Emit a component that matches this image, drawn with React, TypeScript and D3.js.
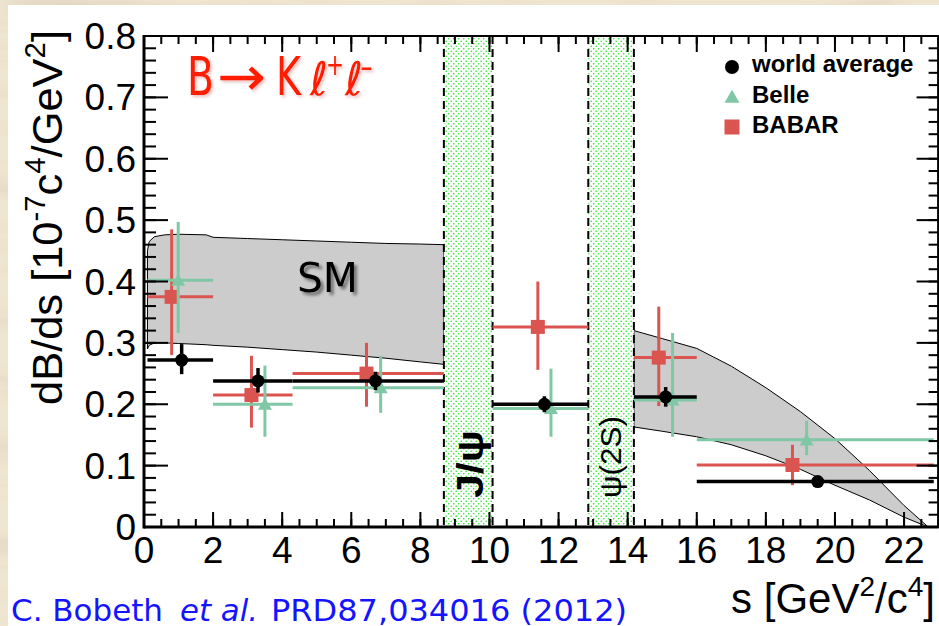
import React from 'react';
import * as d3 from 'd3';

// ---- data ----
const binLo = [0.1, 2.0, 4.3, 10.09, 14.18, 16.0];
const binHi = [2.0, 4.3, 8.68, 12.86, 16.0, 22.86];

const waX = [1.09, 3.3, 6.7, 11.59, 15.1, 19.5];
const waY = [0.272, 0.238, 0.238, 0.2, 0.212, 0.074];
const waHi = [0.298, 0.259, 0.253, 0.213, 0.228, 0.082];
const waLo = [0.249, 0.219, 0.223, 0.187, 0.196, 0.066];

const belleX = [0.99, 3.5, 6.85, 11.78, 15.3, 19.18];
const belleY = [0.402, 0.2, 0.227, 0.193, 0.207, 0.142];
const belleHi = [0.497, 0.263, 0.279, 0.258, 0.316, 0.173];
const belleLo = [0.316, 0.147, 0.186, 0.147, 0.147, 0.117];

const babarX = [0.8, 3.11, 6.44, 11.4, 14.9, 18.77];
const babarY = [0.375, 0.215, 0.25, 0.326, 0.276, 0.101];
const babarHi = [0.485, 0.279, 0.3, 0.4, 0.359, 0.134];
const babarLo = [0.28, 0.162, 0.196, 0.256, 0.197, 0.068];

const smS1 = [0.1, 0.15, 0.3, 0.6, 1.0, 1.8, 2.0, 3.0, 4.0, 5.0, 6.0, 7.0, 8.0, 8.68];
const smUp1 = [0.45, 0.465, 0.473, 0.476, 0.477, 0.476, 0.472, 0.47, 0.468, 0.466, 0.464, 0.462, 0.461, 0.46];
const smLow1 = [0.29, 0.296, 0.3, 0.3, 0.299, 0.297, 0.296, 0.293, 0.289, 0.285, 0.28, 0.275, 0.269, 0.265];

const smS2 = [14.18, 15, 16, 17, 18, 19, 20, 21, 22, 22.7];
const smUp2 = [0.32, 0.307, 0.291, 0.262, 0.227, 0.188, 0.144, 0.092, 0.035, 0.0];
const smLow2 = [0.163, 0.156, 0.147, 0.134, 0.116, 0.094, 0.068, 0.044, 0.016, 0.0];

const vetoLo = [8.68, 12.86];
const vetoHi = [10.09, 14.18];
const vetoLabels = ['J/ψ', 'ψ(2S)'];

const xTickLabels = ['0', '2', '4', '6', '8', '10', '12', '14', '16', '18', '20', '22'];
const yTickLabels = ['0', '0.1', '0.2', '0.3', '0.4', '0.5', '0.6', '0.7', '0.8'];

const legendNames = ['world average', 'Belle', 'BABAR'];

// ---- styles ----
const BLACK = '#000000';
const GREEN = '#80c7a6';
const RED = '#da5550';

const X0 = 144, X1 = 938.6, Y0 = 527, Y1 = 36;

export default function App() {
  const x = d3.scaleLinear().domain([0, 23]).range([X0, X1]);
  const y = d3.scaleLinear().domain([0, 0.8]).range([Y0, Y1]);

  const band = (s: number[], up: number[], lo: number[]) =>
    d3.area<number>()
      .x((_, i) => x(s[i]))
      .y0((_, i) => y(lo[i]))
      .y1((_, i) => y(up[i]))
      .curve(d3.curveLinear)(s) as string;

  const xMinor = d3.range(0, 23.01, 0.5);
  const xMajor = d3.range(0, 22.01, 2);
  const yMinor = d3.range(0, 0.8001, 0.02);
  const yMajor = d3.range(0, 0.8001, 0.1);

  const triangle = d3.symbol().type(d3.symbolTriangle);

  const series = [
    { xs: babarX, ys: babarY, hi: babarHi, lo: babarLo, color: RED, w: 3, kind: 'square' },
    { xs: belleX, ys: belleY, hi: belleHi, lo: belleLo, color: GREEN, w: 3, kind: 'triangle' },
    { xs: waX, ys: waY, hi: waHi, lo: waLo, color: BLACK, w: 3.5, kind: 'circle' },
  ];

  const marker = (kind: string, cx: number, cy: number, color: string, s: number, key?: any) => {
    if (kind === 'circle') return <circle key={key} cx={cx} cy={cy} r={s / 2} fill={color} />;
    if (kind === 'square') return <rect key={key} x={cx - s / 2} y={cy - s / 2} width={s} height={s} fill={color} />;
    return <path key={key} d={triangle.size((s * s * Math.sqrt(3)) / 4)() as string} transform={`translate(${cx},${cy + 1.5})`} fill={color} />;
  };

  return (
    <svg width={939} height={626} style={{ position: 'absolute', left: 0, top: 0 }}
      xmlns="http://www.w3.org/2000/svg">
      <defs>
        <filter id="marble" x="0" y="0" width="100%" height="100%">
          <feTurbulence type="fractalNoise" baseFrequency="0.006 0.03" numOctaves={4} seed={5} />
          <feColorMatrix type="matrix" values="0 0 0 0 0.62  0 0 0 0 0.52  0 0 0 0 0.36  1.6 0 0 0 -0.75" />
        </filter>
        <pattern id="dots" width={5} height={5} patternUnits="userSpaceOnUse">
          <rect width={5} height={5} fill="#ffffff" />
          <circle cx={1.2} cy={1.2} r={0.8} fill="#1ee61e" />
          <circle cx={3.7} cy={3.7} r={0.8} fill="#1ee61e" />
        </pattern>
        <filter id="smShadow" x="-20%" y="-20%" width="150%" height="160%">
          <feDropShadow dx={3} dy={3} stdDeviation={1.8} floodColor="#000" floodOpacity={0.45} />
        </filter>
        <filter id="titleShadow" x="-10%" y="-20%" width="130%" height="160%">
          <feDropShadow dx={2} dy={2} stdDeviation={1.5} floodColor="#a00" floodOpacity={0.25} />
        </filter>
      </defs>

      {/* background */}
      <rect x={0} y={0} width={939} height={626} fill="#efe6d2" />
      <rect x={0} y={0} width={939} height={626} filter="url(#marble)" opacity={0.5} />
      <rect x={8} y={5} width={931} height={621} fill="#ffffff" />

      {/* SM band */}
      <path d={band(smS1, smUp1, smLow1)} fill="#cccccc" stroke="#000" strokeWidth={1} />
      <path d={band(smS2, smUp2, smLow2)} fill="#cccccc" stroke="#000" strokeWidth={1} />

      {/* veto regions */}
      {vetoLo.map((lo, i) => (
        <g key={'v' + i}>
          <rect x={x(lo)} y={Y1} width={x(vetoHi[i]) - x(lo)} height={Y0 - Y1} fill="url(#dots)" />
          <line x1={x(lo)} x2={x(lo)} y1={Y1} y2={Y0} stroke="#000" strokeWidth={2} strokeDasharray="8,5" />
          <line x1={x(vetoHi[i])} x2={x(vetoHi[i])} y1={Y1} y2={Y0} stroke="#000" strokeWidth={2} strokeDasharray="8,5" />
        </g>
      ))}
      <text transform={`translate(${(x(vetoLo[0]) + x(vetoHi[0])) / 2 + 15},498) rotate(-90)`}
        fontFamily="Liberation Sans, Arial, sans-serif" fontWeight="bold" fontSize={36}
        textLength={68} lengthAdjust="spacingAndGlyphs" fill="#000">{vetoLabels[0]}</text>
      <text transform={`translate(${(x(vetoLo[1]) + x(vetoHi[1])) / 2 + 10},498) rotate(-90)`}
        fontFamily="Liberation Sans, Arial, sans-serif" fontSize={29}
        textLength={82} lengthAdjust="spacingAndGlyphs" fill="#000">{vetoLabels[1]}</text>

      {/* data */}
      {series.map((s, si) => (
        <g key={'s' + si}>
          {s.xs.map((xv, i) => (
            <g key={i}>
              <line x1={x(binLo[i])} x2={x(binHi[i])} y1={y(s.ys[i])} y2={y(s.ys[i])} stroke={s.color} strokeWidth={s.w} />
              <line x1={x(xv)} x2={x(xv)} y1={y(s.hi[i])} y2={y(s.lo[i])} stroke={s.color} strokeWidth={s.w} />
              {marker(s.kind, x(xv), y(s.ys[i]), s.color, s.kind === 'circle' ? 13 : 14)}
            </g>
          ))}
        </g>
      ))}

      {/* frame and ticks */}
      <g stroke="#000" strokeWidth={2}>
        {xMinor.map((v, i) => (
          <g key={'xm' + i}>
            <line x1={x(v)} x2={x(v)} y1={Y0} y2={Y0 - 8} />
            <line x1={x(v)} x2={x(v)} y1={Y1} y2={Y1 + 8} />
          </g>
        ))}
        {xMajor.map((v, i) => (
          <g key={'xM' + i}>
            <line x1={x(v)} x2={x(v)} y1={Y0} y2={Y0 - 15} />
            <line x1={x(v)} x2={x(v)} y1={Y1} y2={Y1 + 16} />
          </g>
        ))}
        {yMinor.map((v, i) => (
          <g key={'ym' + i}>
            <line x1={X0} x2={X0 + 12} y1={y(v)} y2={y(v)} />
            <line x1={X1} x2={X1 - 10} y1={y(v)} y2={y(v)} />
          </g>
        ))}
        {yMajor.map((v, i) => (
          <g key={'yM' + i}>
            <line x1={X0} x2={X0 + 24} y1={y(v)} y2={y(v)} />
            <line x1={X1} x2={X1 - 22} y1={y(v)} y2={y(v)} />
          </g>
        ))}
        <line x1={X0} x2={X1} y1={Y1} y2={Y1} />
        <line x1={X1 - 0.5} x2={X1 - 0.5} y1={Y1} y2={Y0} />
        <line x1={X0} x2={X0} y1={Y1 - 1} y2={Y0 + 1.5} strokeWidth={3} />
        <line x1={X0} x2={X1} y1={Y0} y2={Y0} strokeWidth={3} />
      </g>

      {/* tick labels */}
      <g fontFamily="Liberation Sans, Arial, sans-serif" fontSize={37} fill="#000">
        {yMajor.map((v, i) => (
          <text key={'yl' + i} x={X0 - 8} y={y(v) + 13} textAnchor="end">{yTickLabels[i]}</text>
        ))}
        {xMajor.map((v, i) => (
          <text key={'xl' + i} x={x(v)} y={563} textAnchor="middle">{xTickLabels[i]}</text>
        ))}
      </g>

      {/* axis titles */}
      <text transform="translate(62,405) rotate(-90)" fontFamily="Liberation Sans, Arial, sans-serif"
        fontSize={43} fill="#000" textLength={375} lengthAdjust="spacingAndGlyphs">
        dB/ds [10<tspan fontSize={29} dy={-17}>-7</tspan><tspan dy={17}>c</tspan><tspan fontSize={29} dy={-17}>4</tspan><tspan dy={17}>/GeV</tspan><tspan fontSize={29} dy={-17}>2</tspan><tspan dy={17}>]</tspan>
      </text>
      <text x={935} y={613} textAnchor="end" fontFamily="Liberation Sans, Arial, sans-serif" fontSize={42} fill="#000">
        s [GeV<tspan fontSize={28} dy={-17}>2</tspan><tspan dy={17}>/c</tspan><tspan fontSize={28} dy={-17}>4</tspan><tspan dy={17}>]</tspan>
      </text>

      {/* legend */}
      {legendNames.map((n, i) => (
        <g key={'lg' + i}>
          {marker(series[2 - i].kind, 732, 67 + i * 30, series[2 - i].color, i === 0 ? 14 : 15)}
          <text x={752} y={72 + i * 30.5} fontFamily="Liberation Sans, Arial, sans-serif" fontWeight="bold" fontSize={24} fill="#000">{n}</text>
        </g>
      ))}

      {/* title */}
      <g fill="#ff1e00" fontFamily="DejaVu Sans, sans-serif" filter="url(#titleShadow)">
        <text x={187} y={95} fontSize={54} textLength={27} lengthAdjust="spacingAndGlyphs">B</text>
        <text x={217} y={95} fontSize={54} textLength={49} lengthAdjust="spacingAndGlyphs">→</text>
        <text x={276} y={95} fontSize={54} textLength={25} lengthAdjust="spacingAndGlyphs">K</text>
        <text x={310} y={95} fontSize={46} fontStyle="italic" textLength={18} lengthAdjust="spacingAndGlyphs">ℓ</text>
        <text x={326} y={75} fontSize={30} textLength={18} lengthAdjust="spacingAndGlyphs">+</text>
        <text x={345} y={95} fontSize={46} fontStyle="italic" textLength={18} lengthAdjust="spacingAndGlyphs">ℓ</text>
        <text x={360} y={78} fontSize={30} textLength={13} lengthAdjust="spacingAndGlyphs">−</text>
      </g>

      {/* SM label */}
      <text x={297} y={292} fontFamily="DejaVu Sans, sans-serif" fontSize={40} fill="#000"
        textLength={61} lengthAdjust="spacingAndGlyphs" filter="url(#smShadow)">SM</text>

      {/* citation */}
      <g fill="#1414ff" fontFamily="DejaVu Sans, sans-serif" fontSize={31}>
        <text x={11} y={621} textLength={152} lengthAdjust="spacingAndGlyphs">C. Bobeth</text>
        <text x={180} y={621} fontStyle="italic" textLength={78} lengthAdjust="spacingAndGlyphs">et al.</text>
        <text x={271} y={621} textLength={356} lengthAdjust="spacingAndGlyphs">PRD87,034016 (2012)</text>
      </g>
    </svg>
  );
}
